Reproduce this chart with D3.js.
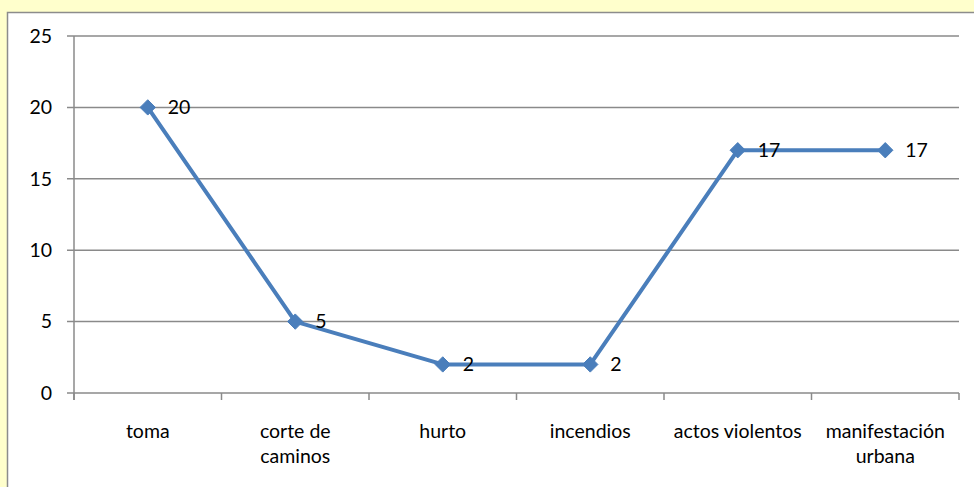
<!DOCTYPE html>
<html><head><meta charset="utf-8">
<script src="https://cdn.jsdelivr.net/npm/d3@7"></script>
<style>html,body{margin:0;padding:0;background:#FFFFCC;overflow:hidden}</style>
</head><body>
<svg id="c" width="974" height="487"></svg>
<script>
const categories = [["toma"],["corte de","caminos"],["hurto"],["incendios"],["actos violentos"],["manifestación","urbana"]];
const values = [20,5,2,2,17,17];
const yTicks = [0,5,10,15,20,25];

const svg = d3.select("#c");
const font = "Lato, 'Open Sans', sans-serif";
const fs = 19.5;
svg.append("rect").attr("x",0).attr("y",0).attr("width",974).attr("height",487).attr("fill","#FFFFCC");
svg.append("rect").attr("x",7.5).attr("y",12.5).attr("width",980).attr("height",490)
  .attr("fill","#fff").attr("stroke","#8c8c8c").attr("stroke-width",1.5);

const x0=74, x1=959, yTop=36, yBot=393;
const x = d3.scaleBand().domain(d3.range(categories.length)).range([x0,x1]);
const y = d3.scaleLinear().domain([0,25]).range([yBot,yTop]);

svg.append("g").selectAll("line").data(yTicks).join("line")
  .attr("x1",67).attr("x2",x1).attr("y1",d=>y(d)).attr("y2",d=>y(d))
  .attr("stroke","#8a8a8a").attr("stroke-width",1.5);
svg.append("line").attr("x1",x0).attr("x2",x0).attr("y1",yTop).attr("y2",yBot+7)
  .attr("stroke","#8a8a8a").attr("stroke-width",1.5);
svg.append("g").selectAll("line").data(d3.range(categories.length+1)).join("line")
  .attr("x1",d=>x0+d*x.step()).attr("x2",d=>x0+d*x.step()).attr("y1",yBot).attr("y2",yBot+7)
  .attr("stroke","#8a8a8a").attr("stroke-width",1.5);
svg.append("g").selectAll("text").data(yTicks).join("text")
  .attr("x",52).attr("y",d=>y(d)).attr("dy","0.35em").attr("text-anchor","end")
  .attr("font-family",font).attr("font-size",fs).attr("fill","#000").text(d=>d);
const xl = svg.append("g").selectAll("text").data(categories).join("text")
  .attr("text-anchor","middle").attr("font-family",font).attr("font-size",fs).attr("fill","#000")
  .attr("transform",(d,i)=>`translate(${x(i)+x.bandwidth()/2},438)`);
xl.selectAll("tspan").data(d=>d).join("tspan").attr("x",0).attr("dy",(d,i)=>i?"1.3em":0).text(d=>d);

const cx = i=>x(i)+x.bandwidth()/2;
svg.append("path").datum(values)
  .attr("d",d3.line().x((d,i)=>cx(i)).y(d=>y(d)))
  .attr("fill","none").attr("stroke","#4A7EBB").attr("stroke-width",4).attr("stroke-linejoin","round");
svg.append("g").selectAll("path").data(values).join("path")
  .attr("d",d3.symbol(d3.symbolDiamond2,150)).attr("transform",(d,i)=>`translate(${cx(i)},${y(d)})`)
  .attr("fill","#4A7EBB").attr("stroke","#4A7EBB").attr("stroke-width",1);
svg.append("g").selectAll("text").data(values).join("text")
  .attr("x",(d,i)=>cx(i)+20).attr("y",d=>y(d)).attr("dy","0.35em")
  .attr("font-family",font).attr("font-size",fs).attr("fill","#000").text(d=>d);
</script>
</body></html>
